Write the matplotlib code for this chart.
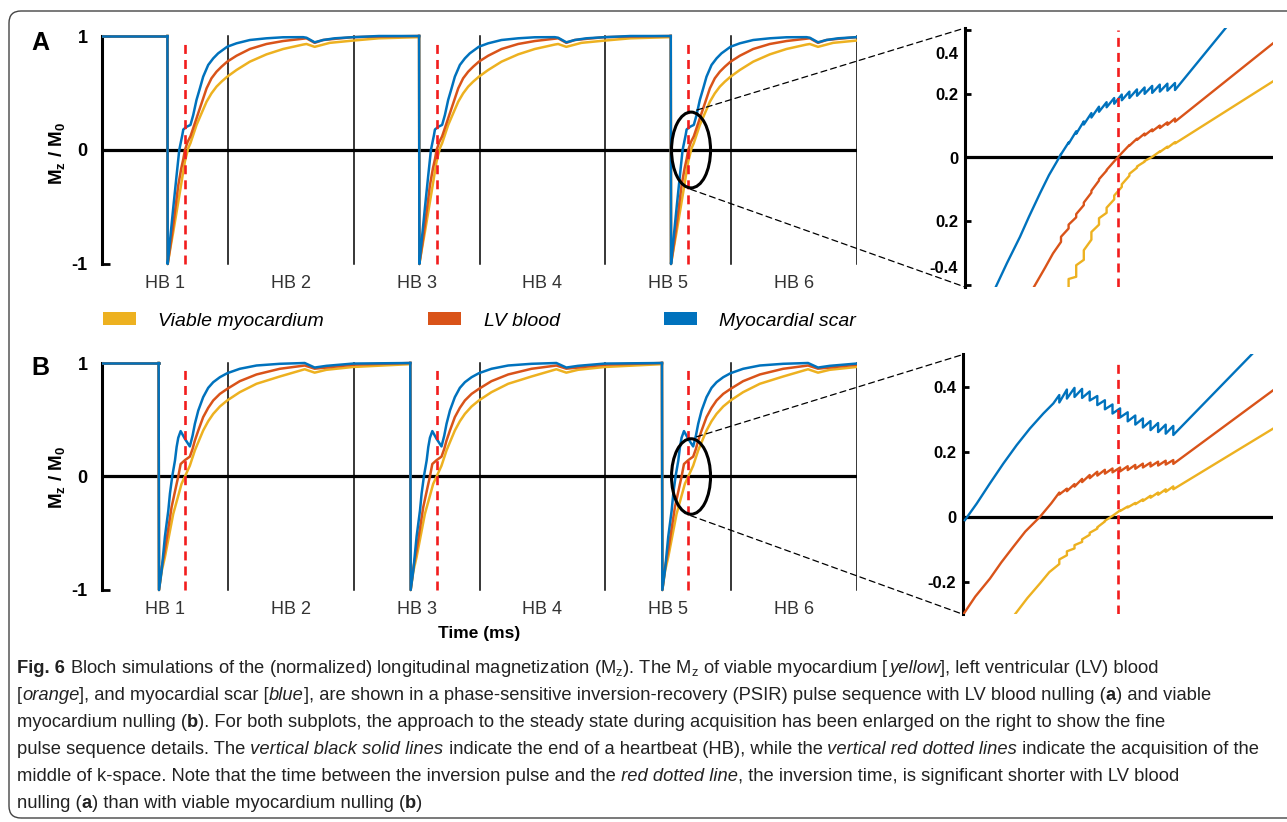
#!/usr/bin/env python3
"""
Bloch simulation figure: PSIR longitudinal magnetization for LV blood nulling (A)
and viable myocardium nulling (B), with enlarged views of the acquisition window.
"""
import matplotlib
matplotlib.use("Agg")
import matplotlib.pyplot as plt
from matplotlib.patches import Ellipse, FancyBboxPatch, Patch, ConnectionPatch
from matplotlib.offsetbox import TextArea, HPacker, AnchoredOffsetbox
from matplotlib.transforms import ScaledTranslation

plt.rcParams["font.family"] = ["Liberation Sans", "DejaVu Sans"]
plt.rcParams["axes.unicode_minus"] = False
plt.rcParams["mathtext.default"] = "regular"

YELLOW, ORANGE, BLUE, RED = "#EDB120", "#D95319", "#0072BD", "#F21D1D"
W, H = 1287, 822

# ---- main time axis (ms, one heartbeat = 1000 ms) ----
hb_ends = [1000, 2000, 3000, 4000, 5000, 6000]
hb_centers = [500, 1500, 2500, 3500, 4500, 5500]
hb_labels = ["HB 1", "HB 2", "HB 3", "HB 4", "HB 5", "HB 6"]
cycle_starts = [0, 2000, 4000]
acq_center = 659

# ---- panel A: LV blood nulling (one 2-heartbeat cycle, from inversion on) ----
a_lead_t = [0, 520]
a_scar_t = [520, 522, 540, 566, 593, 614, 638, 646, 675, 703, 725, 751, 778, 804, 844, 884,
            923, 995, 1069, 1175, 1307, 1439, 1598, 1625, 1690, 1757, 1850, 1995, 2200, 2520]
a_scar_v = [1.0, -1.0, -0.80, -0.51, -0.22, 0.0, 0.13, 0.18, 0.205, 0.22, 0.307, 0.439, 0.541,
            0.643, 0.746, 0.804, 0.848, 0.906, 0.936, 0.965, 0.98, 0.989, 0.99, 0.985, 0.945,
            0.965, 0.98, 0.99, 1.0, 1.0]
a_blood_t = [520, 522, 545, 566, 606, 630, 646, 659, 680, 703, 751, 791, 831, 870, 910, 950,
             995, 1069, 1175, 1307, 1439, 1625, 1690, 1757, 1850, 1995, 2200, 2520]
a_blood_v = [1.0, -1.0, -0.83, -0.66, -0.31, -0.16, -0.08, 0.0, 0.07, 0.12, 0.278, 0.409, 0.541,
             0.629, 0.687, 0.731, 0.775, 0.827, 0.886, 0.93, 0.956, 0.98, 0.94, 0.965, 0.975,
             0.99, 0.995, 1.0]
a_myo_t = [520, 522, 545, 566, 619, 659, 685, 703, 751, 791, 831, 870, 910, 950, 995, 1069,
           1175, 1307, 1439, 1598, 1625, 1690, 1810, 1995, 2200, 2520]
a_myo_v = [1.0, -1.0, -0.85, -0.72, -0.37, -0.10, 0.015, 0.06, 0.219, 0.322, 0.424, 0.497,
           0.556, 0.60, 0.643, 0.702, 0.775, 0.839, 0.886, 0.925, 0.93, 0.905, 0.94, 0.96,
           0.98, 0.99]

# ---- panel B: viable myocardium nulling ----
b_lead_t = [0, 450]
b_scar_t = [450, 453, 474, 500, 527, 540, 558, 580, 593, 606, 625, 660, 698, 720, 738, 765,
            804, 844, 884, 937, 995, 1095, 1228, 1413, 1611, 1690, 1783, 1995, 2450]
b_scar_v = [1.0, -1.0, -0.828, -0.53, -0.30, -0.15, 0.0, 0.141, 0.26, 0.341, 0.40, 0.33, 0.265,
            0.361, 0.464, 0.581, 0.699, 0.781, 0.831, 0.875, 0.91, 0.949, 0.978, 0.993, 1.0,
            0.96, 0.975, 0.995, 1.0]
b_blood_t = [450, 453, 475, 500, 553, 593, 606, 625, 660, 698, 720, 738, 765, 804, 844, 884,
             937, 995, 1095, 1228, 1413, 1611, 1690, 1783, 1995, 2450]
b_blood_v = [1.0, -1.0, -0.80, -0.65, -0.27, -0.065, 0.0, 0.11, 0.145, 0.175, 0.244, 0.317,
             0.405, 0.523, 0.605, 0.67, 0.728, 0.772, 0.84, 0.899, 0.949, 0.978, 0.95, 0.96,
             0.985, 1.0]
b_myo_t = [450, 453, 475, 500, 566, 632, 659, 698, 738, 765, 804, 844, 884, 937, 995, 1095,
           1228, 1413, 1611, 1690, 1783, 1995, 2450]
b_myo_v = [1.0, -1.0, -0.83, -0.71, -0.33, -0.065, 0.0, 0.095, 0.23, 0.302, 0.405, 0.487,
           0.552, 0.617, 0.67, 0.743, 0.817, 0.881, 0.945, 0.915, 0.94, 0.965, 0.99]

# ---- enlarged views: readout pulse times (zoom ms) and Mz just before / after each pulse ----
pulse_t = [48, 51.8, 55.6, 59.4, 63.2, 67, 70.8, 74.6, 78.4, 82.2, 86, 89.8, 93.6, 97.4, 101.2, 105]

za_scar_lead_t = [15, 21, 27.5, 32, 37.5, 42, 46]
za_scar_lead_v = [-0.41, -0.33, -0.248, -0.185, -0.112, -0.055, -0.012]
za_scar_pre = [0.011, 0.047, 0.082, 0.113, 0.139, 0.159, 0.173, 0.186, 0.197, 0.206, 0.213,
               0.219, 0.224, 0.228, 0.231, 0.233]
za_scar_post = [0.010, 0.043, 0.074, 0.103, 0.125, 0.143, 0.157, 0.168, 0.179, 0.186, 0.193,
                0.199, 0.202, 0.206, 0.209, 0.211]
za_scar_end = (131, 0.41)

za_blood_lead_t = [34, 40, 44]
za_blood_lead_v = [-0.41, -0.345, -0.30]
za_blood_pre = [-0.264, -0.222, -0.187, -0.149, -0.110, -0.072, -0.041, -0.012, 0.014, 0.039,
                0.059, 0.075, 0.088, 0.100, 0.110, 0.122]
za_blood_post = [-0.248, -0.210, -0.177, -0.141, -0.104, -0.068, -0.039, -0.012, 0.014, 0.037,
                 0.055, 0.069, 0.082, 0.092, 0.102, 0.112]
za_blood_end = (155, 0.362)

za_myo_lead_t = [44]
za_myo_lead_v = [-0.52]
za_myo_pre = [-0.47, -0.41, -0.373, -0.320, -0.257, -0.210, -0.173, -0.131, -0.092, -0.057,
              -0.032, -0.013, 0.002, 0.019, 0.034, 0.048]
za_myo_post = [-0.43, -0.38, -0.337, -0.290, -0.233, -0.190, -0.157, -0.119, -0.084, -0.051,
               -0.028, -0.011, 0.002, 0.017, 0.030, 0.044]
za_myo_end = (155, 0.242)

zb_scar_lead_t = [0.8, 6.7, 13.3, 20, 26.7, 33.3, 40, 45]
zb_scar_lead_v = [-0.01, 0.041, 0.103, 0.164, 0.221, 0.272, 0.318, 0.349]
zb_scar_pre = [0.375, 0.392, 0.397, 0.394, 0.386, 0.372, 0.359, 0.346, 0.334, 0.322, 0.312,
               0.303, 0.295, 0.289, 0.284, 0.280]
zb_scar_post = [0.352, 0.364, 0.369, 0.366, 0.358, 0.344, 0.331, 0.318, 0.306, 0.294, 0.284,
                0.275, 0.267, 0.261, 0.256, 0.252]
zb_scar_end = (145, 0.505)

zb_blood_lead_t = [0, 6, 13.3, 19, 25, 31, 38.3, 44]
zb_blood_lead_v = [-0.30, -0.245, -0.19, -0.14, -0.092, -0.045, 0.0, 0.042]
zb_blood_pre = [0.075, 0.087, 0.101, 0.117, 0.129, 0.139, 0.145, 0.149, 0.152, 0.156, 0.160,
                0.164, 0.167, 0.170, 0.173, 0.175]
zb_blood_post = [0.069, 0.079, 0.093, 0.107, 0.119, 0.127, 0.133, 0.137, 0.140, 0.144, 0.148,
                 0.152, 0.155, 0.158, 0.161, 0.163]
zb_blood_end = (155, 0.39)

zb_myo_lead_t = [25.8, 32, 38.3, 43]
zb_myo_lead_v = [-0.30, -0.25, -0.205, -0.17]
zb_myo_pre = [-0.145, -0.118, -0.097, -0.077, -0.055, -0.036, -0.014, 0.003, 0.020, 0.032,
              0.043, 0.054, 0.065, 0.075, 0.085, 0.094]
zb_myo_post = [-0.131, -0.106, -0.087, -0.069, -0.049, -0.032, -0.012, 0.003, 0.018, 0.029,
               0.039, 0.049, 0.059, 0.068, 0.077, 0.085]
zb_myo_end = (155, 0.272)

legend_labels = ["Viable myocardium", "LV blood", "Myocardial scar"]

caption_lines = [
    [("Fig. 6", "b"), (" Bloch simulations of the (normalized) longitudinal magnetization (M$_z$). "
                       "The M$_z$ of viable myocardium [", "r"), ("yellow", "i"),
     ("], left ventricular (LV) blood", "r")],
    [("[", "r"), ("orange", "i"), ("], and myocardial scar [", "r"), ("blue", "i"),
     ("], are shown in a phase-sensitive inversion-recovery (PSIR) pulse sequence with LV "
      "blood nulling (", "r"), ("a", "b"), (") and viable", "r")],
    [("myocardium nulling (", "r"), ("b", "b"),
     ("). For both subplots, the approach to the steady state during acquisition has been "
      "enlarged on the right to show the fine", "r")],
    [("pulse sequence details. The", "r"), (" vertical black solid lines", "i"),
     (" indicate the end of a heartbeat (HB), while the", "r"), (" vertical red dotted lines", "i"),
     (" indicate the acquisition of the", "r")],
    [("middle of k-space. Note that the time between the inversion pulse and the", "r"),
     (" red dotted line", "i"),
     (", the inversion time, is significant shorter with LV blood", "r")],
    [("nulling (", "r"), ("a", "b"), (") than with viable myocardium nulling (", "r"), ("b", "b"),
     (")", "r")],
]
caption_y = [668, 695, 722, 749, 776, 803]


def zigzag(lead_t, lead_v, pre, post, end):
    t, v = list(lead_t), list(lead_v)
    for p, a, b in zip(pulse_t, pre, post):
        t += [p, p]
        v += [a, b]
    t.append(end[0])
    v.append(end[1])
    return t, v


def draw_main(ax, lead_t, series, red_top):
    ax.set_xlim(0, 6000)
    ax.set_ylim(-1.03, 1.03)
    for x in hb_ends:
        ax.plot([x, x], [-1, 1], color="black", lw=1.1, zorder=1)
    ax.plot([0, 6000], [0, 0], color="black", lw=2.3, zorder=2)
    for t, v, col in series:
        ax.plot(lead_t, [1, 1], color=col, lw=1.8, zorder=3)
        for c in cycle_starts:
            ax.plot([x + c for x in t], v, color=col, lw=1.8, zorder=3,
                    solid_joinstyle="round")
    for c in cycle_starts:
        ax.plot([c + acq_center] * 2, [-1, red_top], color=RED, lw=1.9, dashes=(3.4, 2.3),
                zorder=5)
    ax.add_patch(Ellipse((4681, 0), 310, 0.665, fill=False, lw=2.2, ec="black", zorder=6))
    for s in ["top", "right", "bottom"]:
        ax.spines[s].set_visible(False)
    ax.spines["left"].set_bounds(-1, 1)
    ax.spines["left"].set_linewidth(2.2)
    ax.set_yticks([-1, 0, 1])
    ax.set_yticklabels(["-1", "0", "1"], fontweight="bold", fontsize=13)
    ax.tick_params(axis="y", direction="in", length=6, width=2, pad=10.5)
    ax.set_xticks(hb_centers)
    ax.set_xticklabels(hb_labels, fontsize=13, color="#333333")
    ax.tick_params(axis="x", length=0, pad=5.5)
    ax.patch.set_alpha(0)


def draw_zoom(ax, series, xmax, ylim, red_t, red_span):
    ax.set_xlim(0, xmax)
    ax.set_ylim(*ylim)
    ax.plot([0, xmax], [0, 0], color="black", lw=2.3, zorder=2)
    for t, v, col in series:
        ax.plot(t, v, color=col, lw=1.7, zorder=3)
    ax.plot([red_t] * 2, red_span, color=RED, lw=1.9, dashes=(3.4, 2.3), zorder=5)
    for s in ["top", "right", "bottom"]:
        ax.spines[s].set_visible(False)
    ax.spines["left"].set_linewidth(2.2)
    ax.set_xticks([])
    ax.tick_params(axis="y", direction="in", length=4.5, width=2, pad=5, labelsize=12)
    ax.patch.set_alpha(0)


fig = plt.figure(figsize=(W / 100, H / 100), dpi=100)

ax_a = fig.add_axes([102 / W, 1 - 267.4 / H, 755 / W, 234.8 / H])
ax_b = fig.add_axes([102 / W, 1 - 593.4 / H, 755 / W, 233.8 / H])
zoom_a = fig.add_axes([965 / W, 1 - 287 / H, 308 / W, 259 / H])
zoom_b = fig.add_axes([963.3 / W, 1 - 614.4 / H, 310 / W, 260 / H])

draw_main(ax_a, a_lead_t, [(a_myo_t, a_myo_v, YELLOW), (a_blood_t, a_blood_v, ORANGE),
                           (a_scar_t, a_scar_v, BLUE)], 0.95)
draw_main(ax_b, b_lead_t, [(b_myo_t, b_myo_v, YELLOW), (b_blood_t, b_blood_v, ORANGE),
                           (b_scar_t, b_scar_v, BLUE)], 0.963)

draw_zoom(zoom_a, [
    (*zigzag(za_myo_lead_t, za_myo_lead_v, za_myo_pre, za_myo_post, za_myo_end), YELLOW),
    (*zigzag(za_blood_lead_t, za_blood_lead_v, za_blood_pre, za_blood_post, za_blood_end), ORANGE),
    (*zigzag(za_scar_lead_t, za_scar_lead_v, za_scar_pre, za_scar_post, za_scar_end), BLUE),
], 154, (-0.405, 0.405), 76.5, [-0.405, 0.40])
zoom_a.set_yticks([-0.4, -0.2, 0, 0.2, 0.4])
zoom_a.set_yticklabels(["-0.4", "0.2", "0", "0.2", "0.4"], fontweight="bold")
labs = zoom_a.get_yticklabels()
labs[-1].set_transform(labs[-1].get_transform() + ScaledTranslation(0, -0.23, fig.dpi_scale_trans))
labs[0].set_transform(labs[0].get_transform() + ScaledTranslation(0, 0.18, fig.dpi_scale_trans))

draw_zoom(zoom_b, [
    (*zigzag(zb_myo_lead_t, zb_myo_lead_v, zb_myo_pre, zb_myo_post, zb_myo_end), YELLOW),
    (*zigzag(zb_blood_lead_t, zb_blood_lead_v, zb_blood_pre, zb_blood_post, zb_blood_end), ORANGE),
    (*zigzag(zb_scar_lead_t, zb_scar_lead_v, zb_scar_pre, zb_scar_post, zb_scar_end), BLUE),
], 155, (-0.3, 0.5), 77.5, [-0.3, 0.485])
zoom_b.set_yticks([-0.2, 0, 0.2, 0.4])
zoom_b.set_yticklabels(["-0.2", "0", "0.2", "0.4"], fontweight="bold")

# dashed lines from the ellipse to the enlarged view
for ax, zax in [(ax_a, zoom_a), (ax_b, zoom_b)]:
    for xy_main, xy_zoom in [((4726, 0.35), (0, 1)), ((4678, -0.345), (0, 0))]:
        con = ConnectionPatch(xyA=xy_main, coordsA=ax.transData, xyB=xy_zoom,
                              coordsB=zax.transAxes, color="black", lw=0.9,
                              linestyle=(0, (4.8, 3.2)))
        fig.add_artist(con)

# panel letters and axis labels
fig.text(40 / W, 1 - 43.5 / H, "A", fontsize=18, fontweight="bold", ha="center", va="center")
fig.text(40 / W, 1 - 368 / H, "B", fontsize=18, fontweight="bold", ha="center", va="center")
fig.text(57 / W, 1 - 153 / H, "M$_z$ / M$_0$", rotation=90, fontsize=13.5, fontweight="bold",
         ha="center", va="center")
fig.text(57 / W, 1 - 477 / H, "M$_z$ / M$_0$", rotation=90, fontsize=13.5, fontweight="bold",
         ha="center", va="center")
fig.text(479 / W, 1 - 633 / H, "Time (ms)", fontsize=12.5, fontweight="bold",
         ha="center", va="center")

# legend
handles = [Patch(fc=c, ec="none") for c in (YELLOW, ORANGE, BLUE)]
fig.legend(handles, legend_labels, loc="center left", bbox_to_anchor=(103 / W, 1 - 321 / H),
           ncol=3, frameon=False, prop=dict(style="italic", size=14),
           handlelength=1.7, handleheight=0.6, handletextpad=1.15, columnspacing=5.35,
           borderpad=0, borderaxespad=0)

# rounded frame round the whole figure (its right side runs off the page)
fig.add_artist(FancyBboxPatch((0.09, 0.04), 13.2, 8.07, boxstyle="round,pad=0,rounding_size=0.12",
                              transform=fig.dpi_scale_trans, fill=False, ec="#444444", lw=1.0))

# caption
CAP_SIZE = 13.2
for segments, y in zip(caption_lines, caption_y):
    boxes = []
    for text, style in segments:
        props = dict(size=CAP_SIZE, color="#222222")
        if style == "b":
            props["weight"] = "bold"
        if style == "i":
            props["style"] = "italic"
        boxes.append(TextArea(text, textprops=props))
    pack = HPacker(children=boxes, align="baseline", pad=0, sep=0)
    fig.add_artist(AnchoredOffsetbox(loc="center left", child=pack, pad=0, borderpad=0,
                                     frameon=False, bbox_to_anchor=(17 / W, 1 - y / H),
                                     bbox_transform=fig.transFigure))

fig.savefig("out.png", dpi=100)
